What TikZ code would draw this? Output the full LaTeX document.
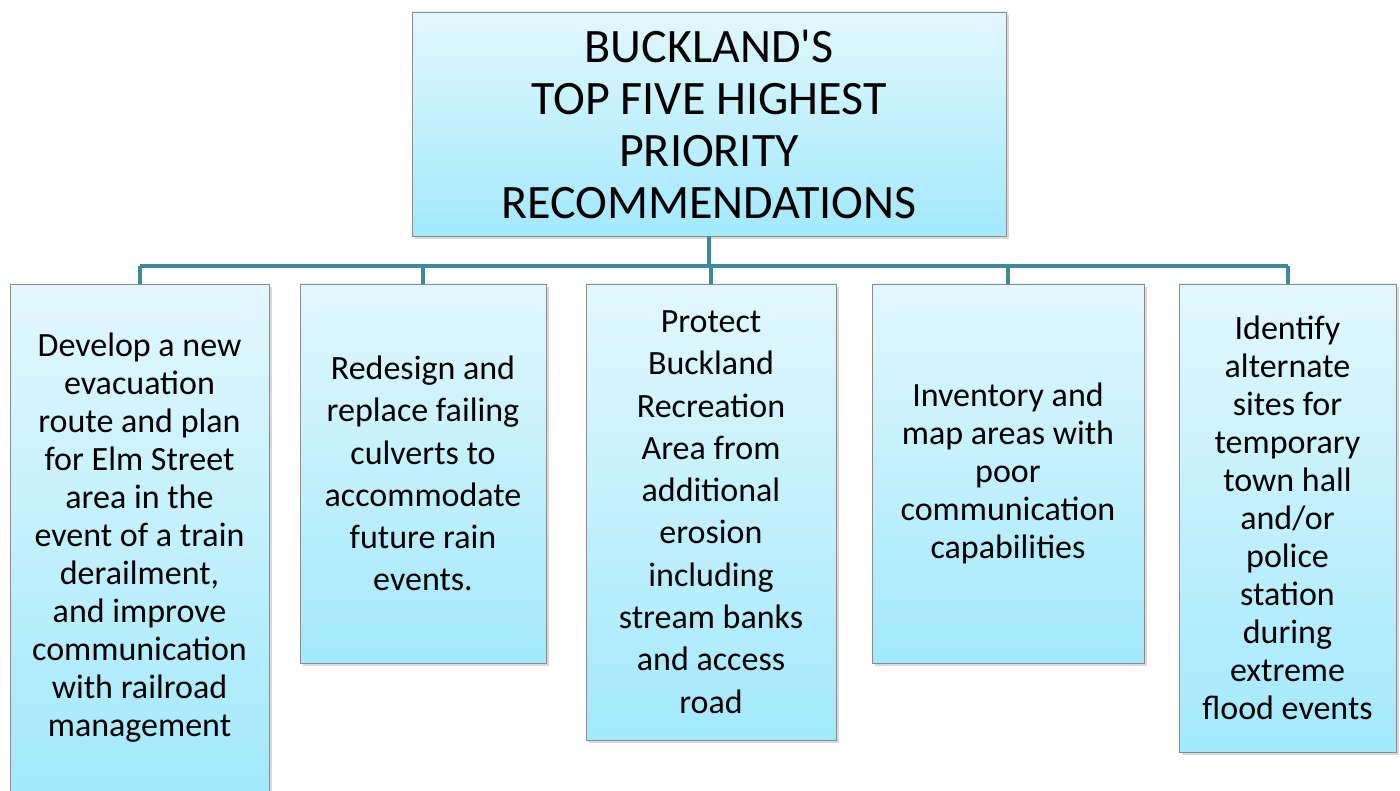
\documentclass[tikz,border=0pt]{standalone}
\usepackage{fontspec}
\setmainfont{Carlito}
\usetikzlibrary{shadows}
\definecolor{linkteal}{HTML}{3A8AA0}
\definecolor{boxtop}{HTML}{E2F7FD}
\definecolor{boxbottom}{HTML}{A2E9FC}
\tikzset{recbox/.style = {draw=black!45, line width=0.6pt, inner sep=0pt,
                          top color=boxtop, bottom color=boxbottom,
                          drop shadow={shadow xshift=3pt, shadow yshift=-3pt, opacity=0.3},
                          align=center, font=\fontsize{34}{38}\selectfont}}
\tikzset{widebox/.style = {recbox, font=\fontsize{34}{42.3}\selectfont}}
\tikzset{titlebox/.style = {recbox, font=\fontsize{48}{52}\selectfont}}
\tikzset{link/.style = {draw=linkteal, line width=4pt}}
\begin{document}
\begin{tikzpicture}[x=1pt, y=-1pt]
	\useasboundingbox (0,0) rectangle (1400,791);
	\node[titlebox, minimum width=594pt, minimum height=224pt] (title) at (709,124) {BUCKLAND\textquotesingle S\\TOP FIVE HIGHEST\\PRIORITY\\RECOMMENDATIONS};
	\node[recbox, minimum width=259pt, minimum height=507pt] (rec1) at (139.5,538) {Develop a new\\evacuation\\route and plan\\for Elm Street\\area in the\\event of a train\\derailment,\\and improve\\communication\\with railroad\\management};
	\node[widebox, minimum width=246pt, minimum height=379pt] (rec2) at (423,473.5) {Redesign and\\replace failing\\culverts to\\accommodate\\future rain\\events.};
	\node[widebox, minimum width=250pt, minimum height=456pt] (rec3) at (711,512) {Protect\\Buckland\\Recreation\\Area from\\additional\\erosion\\including\\stream banks\\and access\\road};
	\node[recbox, minimum width=272pt, minimum height=379pt] (rec4) at (1008,473.5) {Inventory and\\map areas with\\poor\\communication\\capabilities};
	\node[recbox, minimum width=217pt, minimum height=468pt] (rec5) at (1287.5,518) {Identify\\alternate\\sites for\\temporary\\town hall\\and/or\\police\\station\\during\\extreme\\flood events};
	% bus line under the title
	\coordinate (bus) at (708,266);
	\draw[link] (title.south) -- (title.south |- bus);
	\draw[link] (rec1.north |- bus) -- (rec5.north |- bus);
	\foreach \r in {rec1,rec2,rec3,rec4,rec5}
		\draw[link] (\r.north) -- (\r.north |- bus);
\end{tikzpicture}
\end{document}
